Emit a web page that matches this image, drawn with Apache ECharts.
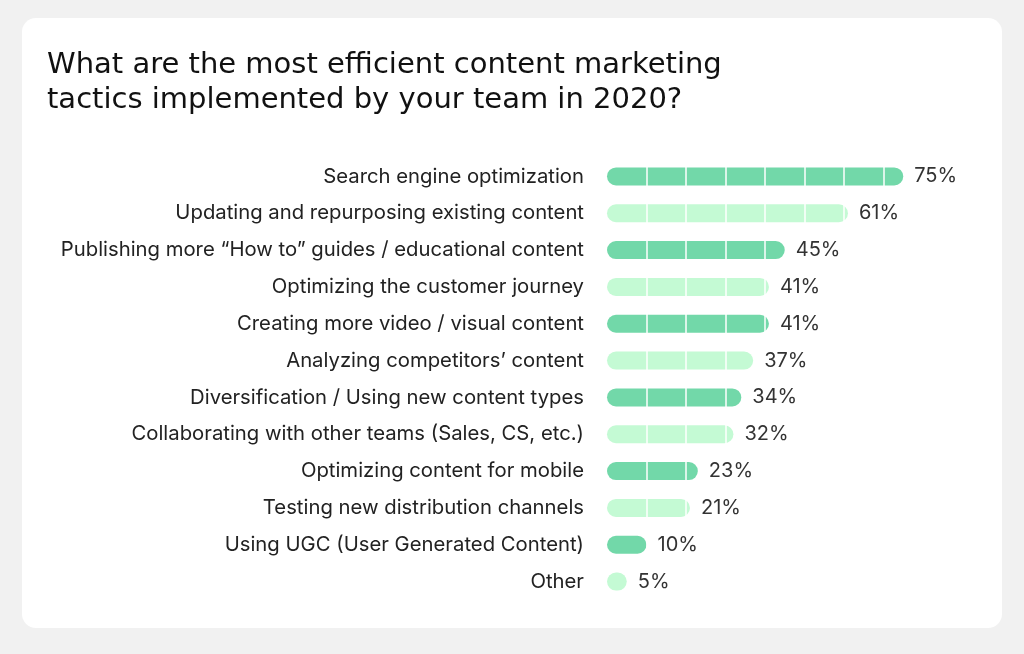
<!DOCTYPE html>
<html>
<head>
<meta charset="utf-8">
<script src="https://cdn.jsdelivr.net/npm/echarts@6/dist/echarts.min.js"></script>
<style>
html,body{margin:0;padding:0;background:#f1f1f1;}
#chart{width:1024px;height:654px;}
</style>
</head>
<body>
<div id="chart"></div>
<script>
const titleText = 'What are the most efficient content marketing\ntactics implemented by your team in 2020?';
const categories = [
  'Search engine optimization',
  'Updating and repurposing existing content',
  'Publishing more \u201cHow to\u201d guides / educational content',
  'Optimizing the customer journey',
  'Creating more video / visual content',
  'Analyzing competitors\u2019 content',
  'Diversification / Using new content types',
  'Collaborating with other teams (Sales, CS, etc.)',
  'Optimizing content for mobile',
  'Testing new distribution channels',
  'Using UGC (User Generated Content)',
  'Other'
];
const values = [75, 61, 45, 41, 41, 37, 34, 32, 23, 21, 10, 5];
const colorDark = '#72d8a9';
const colorLight = '#c4fad4';

const chart = echarts.init(document.getElementById('chart'));
chart.setOption({
  backgroundColor: '#f1f1f1',
  animation: false,
  graphic: [{
    type: 'rect', z: -10, silent: true,
    shape: {x: 22, y: 18, width: 980, height: 610, r: 14},
    style: {fill: '#ffffff'}
  }],
  title: {
    text: titleText,
    left: 42, top: 43,
    textStyle: {fontFamily: 'DejaVu Sans', fontSize: 29, fontWeight: 'normal', color: '#111', lineHeight: 35}
  },
  grid: {left: 607, top: 158, width: 316, height: 442, containLabel: false},
  xAxis: {
    type: 'value', min: 0, max: 80, interval: 10, z: 3,
    axisLabel: {show: false}, axisLine: {show: false}, axisTick: {show: false},
    splitLine: {show: true, showMinLine: false, showMaxLine: false, lineStyle: {color: '#ffffff', width: 1.5}}
  },
  yAxis: {
    type: 'category', data: categories, inverse: true,
    axisLine: {show: false}, axisTick: {show: false},
    axisLabel: {margin: 23, fontFamily: 'Inter', fontSize: 20.3, color: '#222'}
  },
  series: [{
    type: 'bar', z: 2,
    barWidth: 18,
    data: values.map((v, i) => ({value: v, itemStyle: {color: i % 2 === 0 ? colorDark : colorLight}})),
    itemStyle: {borderRadius: 9}
  }, {
    type: 'bar', z: 5,
    barWidth: 18, barGap: '-100%',
    data: values,
    itemStyle: {color: 'rgba(0,0,0,0)'},
    label: {show: true, position: 'right', distance: 11, formatter: '{c}%', fontFamily: 'Inter', fontSize: 20, color: '#333'}
  }]
});
</script>
</body>
</html>
